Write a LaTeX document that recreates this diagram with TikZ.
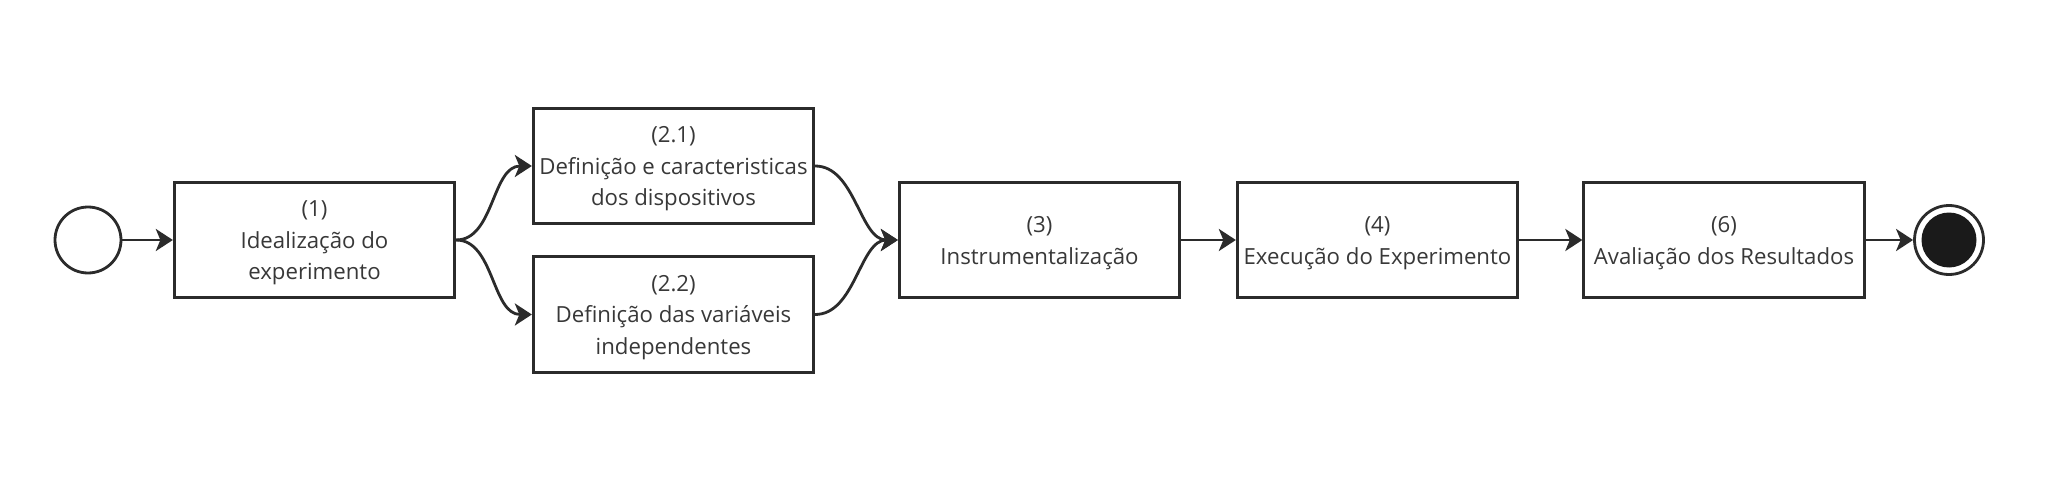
\documentclass[tikz,border=0pt]{standalone}
\usepackage{fontspec}
\setmainfont{Open Sans}
\usetikzlibrary{arrows.meta}
\definecolor{ink}{HTML}{2B2B2B}
\definecolor{txt}{HTML}{383838}
\definecolor{dot}{HTML}{1A1A1A}
\begin{document}
\begin{tikzpicture}[x=1pt,y=-1pt,
  taskbox/.style={draw=ink, line width=2.8pt, fill=white, minimum width=280.5pt, minimum height=115.5pt, inner sep=0pt, align=center, text=txt, font=\fontsize{22.2}{31.5}\selectfont},
  lbl/.style={align=center, text=txt, font=\fontsize{22.2}{31.5}\selectfont, inner sep=0pt},
  flow/.style={draw=ink, line width=2.8pt, -{Stealth[length=17pt,width=22pt,inset=4.5pt]}},
  startev/.style={circle, draw=ink, line width=2.8pt, minimum size=66pt, inner sep=0pt},
  endev/.style={circle, draw=ink, line width=2.8pt, minimum size=69pt, inner sep=0pt}
]
\useasboundingbox (0,0) rectangle (2062,484);
\fill[white] (0,0) rectangle (2062,484);
\node[startev] (s) at (88,240) {};
\node[taskbox] (b1) at (314.5,240) {};
\node[taskbox] (b21) at (673.5,166) {};
\node[taskbox] (b22) at (673.5,314.5) {};
\node[taskbox] (b3) at (1039.5,240) {};
\node[taskbox] (b4) at (1377.5,240) {};
\node[taskbox] (b6) at (1724,240) {};
\node[lbl] (t1) at ([yshift=-3pt]b1.center) {(1)\\Idealização do\\experimento};
\node[lbl] (t21) at ([yshift=-3pt]b21.center) {(2.1)\\Definição e caracteristicas\\dos dispositivos};
\node[lbl] (t22) at ([yshift=-3pt]b22.center) {(2.2)\\Definição das variáveis\\independentes};
\node[lbl] (t3) at ([yshift=-3pt]b3.center) {(3)\\Instrumentalização};
\node[lbl] (t4) at ([yshift=-3pt]b4.center) {(4)\\Execução do Experimento};
\node[lbl] (t6) at ([yshift=-3pt]b6.center) {(6)\\Avaliação dos Resultados};
\node[endev] (e) at (1949,240) {};
\fill[dot] (e.center) circle (27.5pt);
\draw[flow] (s) -- (b1);
\draw[flow] (b1.east) .. controls +(38,0) and +(-40,0) .. (b21.west);
\draw[flow] (b1.east) .. controls +(38,0) and +(-40,0) .. (b22.west);
\draw[flow] (b21.east) .. controls +(40,0) and +(-38,0) .. (b3.west);
\draw[flow] (b22.east) .. controls +(40,0) and +(-38,0) .. (b3.west);
\draw[flow] (b3) -- (b4);
\draw[flow] (b4) -- (b6);
\draw[flow] (b6) -- (e);
\end{tikzpicture}
\end{document}
